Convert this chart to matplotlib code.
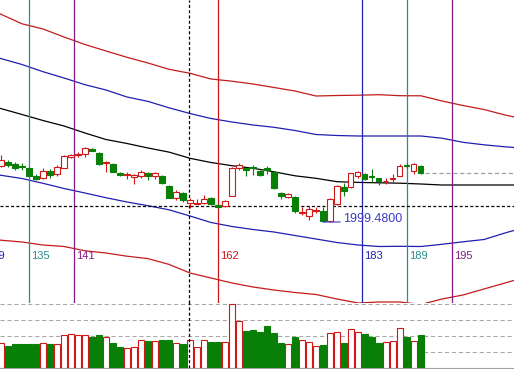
import matplotlib
matplotlib.use('Agg')
import matplotlib.pyplot as plt
import numpy as np

plt.rcParams['lines.scale_dashes'] = False

# bar data, oldest first
opens = [2005.11, 2005.51, 2005.25, 2005.11, 2004.85, 2004.11, 2003.85, 2004.61, 2004.28, 2004.91,
         2006.01, 2006.18, 2006.28, 2006.78, 2006.41, 2005.41, 2005.28, 2004.41, 2004.23, 2004.03,
         2004.08, 2004.41, 2004.08, 2004.08, 2003.08, 2001.85, 2002.35, 2001.35, 2001.33, 2001.35,
         2001.91, 2001.13, 2001.11, 2002.11, 2004.91, 2004.85, 2005.01, 2004.61, 2004.85, 2004.51,
         2002.41, 2002.01, 2002.01, 2000.41, 2000.08, 2000.61, 2000.58, 1999.61, 2001.28, 2002.95,
         2002.95, 2004.11, 2004.28, 2004.08, 2003.85, 2003.55, 2003.81, 2004.11, 2005.18, 2004.61,
         2005.08]
highs = [2006.18, 2005.68, 2005.51, 2005.35, 2004.95, 2004.28, 2004.85, 2004.75, 2005.18, 2006.18,
         2006.28, 2006.51, 2007.01, 2006.88, 2006.51, 2005.58, 2005.35, 2004.51, 2004.51, 2004.28,
         2004.68, 2004.51, 2004.51, 2004.18, 2003.18, 2002.68, 2002.51, 2001.85, 2001.78, 2002.18,
         2002.01, 2001.28, 2001.68, 2005.01, 2005.35, 2004.88, 2005.18, 2004.68, 2005.08, 2004.58,
         2002.51, 2002.35, 2002.08, 2000.98, 2001.08, 2001.01, 2000.98, 2001.85, 2003.18, 2003.35,
         2004.41, 2004.61, 2004.35, 2004.75, 2003.88, 2003.85, 2004.28, 2005.28, 2005.35, 2005.35,
         2005.18]
lows = [2004.98, 2005.01, 2004.68, 2004.68, 2004.08, 2003.68, 2003.78, 2003.85, 2004.11, 2004.85,
        2005.88, 2006.01, 2005.95, 2006.58, 2005.18, 2004.51, 2004.45, 2004.08, 2003.75, 2003.25,
        2003.85, 2003.68, 2003.75, 2003.25, 2001.88, 2001.68, 2001.51, 2000.85, 2001.30, 2001.28,
        2001.18, 2000.88, 2001.01, 2002.08, 2004.68, 2004.08, 2004.18, 2004.08, 2004.28, 2002.78,
        2001.75, 2001.85, 2000.38, 2000.18, 1999.68, 2000.35, 1999.48, 1999.51, 2001.18, 2002.11,
        2002.85, 2003.85, 2003.68, 2003.51, 2003.18, 2003.25, 2003.35, 2004.08, 2004.85, 2004.28,
        2004.28]
closes = [2005.68, 2005.18, 2004.85, 2004.95, 2004.11, 2003.78, 2004.61, 2004.18, 2005.01, 2006.08,
          2006.21, 2006.28, 2006.85, 2006.61, 2005.25, 2005.51, 2004.51, 2004.18, 2004.33, 2004.13,
          2004.48, 2004.08, 2004.35, 2003.35, 2001.91, 2002.45, 2001.68, 2001.68, 2001.38, 2001.78,
          2001.28, 2001.03, 2001.61, 2004.85, 2005.18, 2004.68, 2004.85, 2004.18, 2004.73, 2002.85,
          2002.08, 2002.28, 2000.58, 2000.48, 2000.75, 2000.66, 1999.61, 2001.75, 2003.08, 2002.61,
          2004.35, 2004.45, 2003.75, 2003.95, 2003.58, 2003.61, 2003.88, 2005.11, 2005.08, 2005.28,
          2004.35]
volumes = [247, 223, 240, 240, 240, 240, 247, 240, 237, 327,
           337, 327, 327, 310, 330, 307, 250, 210, 197, 207,
           277, 270, 267, 283, 283, 247, 240, 277, 207, 277,
           260, 260, 257, 637, 470, 373, 383, 363, 420, 350,
           250, 237, 313, 280, 257, 217, 230, 347, 357, 250,
           390, 357, 340, 313, 250, 260, 270, 400, 313, 270,
           333]

# channel lines (shifted forward past the last bar)
band_bars = [-1] + list(range(0, 73, 3)) + [74]
upper_outer = [2020.58, 2020.25, 2019.30, 2018.78, 2017.98, 2017.23, 2016.58, 2015.95, 2015.38,
               2014.75, 2014.35, 2013.78, 2013.56, 2013.28, 2012.93, 2012.58, 2012.08, 2012.13,
               2012.16, 2012.21, 2012.11, 2012.10, 2011.58, 2011.13, 2010.73, 2010.18, 2009.88]
upper_inner = [2016.08, 2015.82, 2015.23, 2014.51, 2013.88, 2013.21, 2012.68, 2011.98, 2011.54,
               2010.90, 2010.33, 2009.83, 2009.48, 2009.18, 2008.95, 2008.63, 2008.23, 2008.13,
               2008.08, 2008.08, 2008.08, 2008.08, 2007.86, 2007.45, 2007.20, 2007.00, 2006.90]
middle = [2011.03, 2010.82, 2010.23, 2009.63, 2009.08, 2008.38, 2007.73, 2007.33, 2006.88,
          2006.47, 2005.85, 2005.43, 2005.11, 2004.85, 2004.50, 2004.10, 2003.85, 2003.51,
          2003.44, 2003.40, 2003.36, 2003.28, 2003.18, 2003.18, 2003.18, 2003.18, 2003.18]
lower_inner = [2004.33, 2004.15, 2003.83, 2003.35, 2002.83, 2002.38, 2001.91, 2001.48, 2001.11,
               2000.70, 2000.08, 1999.43, 1999.03, 1998.73, 1998.48, 1998.13, 1997.78, 1997.43,
               1997.18, 1997.03, 1997.05, 1997.03, 1997.25, 1997.50, 1997.73, 1998.38, 1998.78]
lower_outer = [1997.78, 1997.66, 1997.48, 1997.18, 1997.03, 1996.60, 1996.38, 1996.06, 1995.82,
               1995.24, 1994.38, 1993.88, 1993.38, 1992.98, 1992.68, 1992.43, 1992.23, 1991.78,
               1991.38, 1991.48, 1991.48, 1991.23, 1991.78, 1992.18, 1992.78, 1993.38, 1993.78]

# time lines and their bar numbers
vline_labels = [129, 135, 141, 162, 183, 189, 195]
vline_pos = [-2.43, 4.0, 10.43, 31.0, 51.57, 58.0, 64.43]
vline_colors = ['#2222b0', '#2b8c8c', '#851a85', '#cc1414', '#2222b0', '#2b8c8c', '#851a85']

cross_bar = 26.86
cross_price = 2001.08

UP = '#d01818'
DOWN = '#088008'
X_MIN, X_MAX = -0.143, 73.29
P_MIN, P_MAX = 1991.38, 2021.68


def draw_candles(ax):
    for i in range(len(opens)):
        up = closes[i] >= opens[i]
        col = UP if up else DOWN
        ax.vlines(i, lows[i], highs[i], colors=col, lw=0.8, zorder=3)
        ax.bar(i, abs(closes[i] - opens[i]), bottom=min(opens[i], closes[i]), width=0.72,
               facecolor='white' if up else col, edgecolor=col, lw=0.8, zorder=4)


def draw_volume(ax):
    for i, v in enumerate(volumes):
        up = closes[i] >= opens[i]
        col = UP if up else DOWN
        ax.bar(i, v, width=0.74, facecolor='white' if up else col, edgecolor=col, lw=0.8, zorder=3)
    for lvl in [160, 320, 480, 640]:
        ax.axhline(lvl, color='#a8a8a8', lw=0.8, linestyle=(0, (3.0, 2.0)), zorder=1)


fig = plt.figure(figsize=(5.14, 3.69), dpi=100)
vol = fig.add_axes((0, 1 / 369, 1, 66 / 369))
ax = fig.add_axes((0, 66 / 369, 1, 303 / 369))
for a in (ax, vol):
    a.set_xlim(X_MIN, X_MAX)
    a.set_xticks([])
    a.set_yticks([])
    for s in a.spines.values():
        s.set_visible(False)
ax.patch.set_alpha(0)
ax.set_ylim(P_MIN, P_MAX)
vol.set_ylim(0, 660)
vol.spines['bottom'].set_visible(True)
vol.spines['bottom'].set_color('#a0a0a0')
vol.spines['bottom'].set_linewidth(0.8)

# channel
ax.plot(band_bars, upper_outer, color='#c41c1c', lw=0.9)
ax.plot(band_bars, lower_outer, color='#c41c1c', lw=0.9)
ax.plot(band_bars, upper_inner, color='#2020b0', lw=0.9)
ax.plot(band_bars, lower_inner, color='#2020b0', lw=0.9)
ax.plot(band_bars, middle, color='black', lw=0.9)

# time lines with labels near the bottom
for lab, b, c in zip(vline_labels, vline_pos, vline_colors):
    ax.axvline(b, color=c, lw=0.9, zorder=2)
    ax.annotate(str(lab), xy=(b, 0.1436), xycoords=('data', 'axes fraction'),
                xytext=(1.6, 0), textcoords='offset points', color=c, fontsize=8,
                family='Liberation Sans', ha='left', va='baseline', annotation_clip=False)

# dashed cross
ax.axhline(cross_price, color='black', lw=0.9, linestyle=(0, (2.2, 1.6)), zorder=2)
ax.axvline(cross_bar, color='black', lw=0.9, linestyle=(0, (2.2, 1.6)), zorder=2)
vol.axvline(cross_bar, color='black', lw=0.9, linestyle=(0, (2.2, 1.6)), zorder=5)

draw_candles(ax)
draw_volume(vol)

# last price line
ax.hlines(closes[-1], len(closes) - 0.4, X_MAX, colors='#a0a0a0', lw=0.9,
          linestyles=[(0, (3.0, 2.0))], zorder=2)

# lowest low marker
lo = int(np.argmin(lows))
ax.annotate('%.4f' % lows[lo], xy=(lo, lows[lo]), xytext=(14.4, 0), textcoords='offset points',
            color='#3b3bc8', fontsize=9, family='Liberation Sans', ha='left', va='baseline',
            arrowprops=dict(arrowstyle='-', color='#3b3bc8', lw=0.8, shrinkA=0, shrinkB=0,
                            relpos=(0, 0.25)), zorder=6)

fig.savefig('out.png', dpi=100)
